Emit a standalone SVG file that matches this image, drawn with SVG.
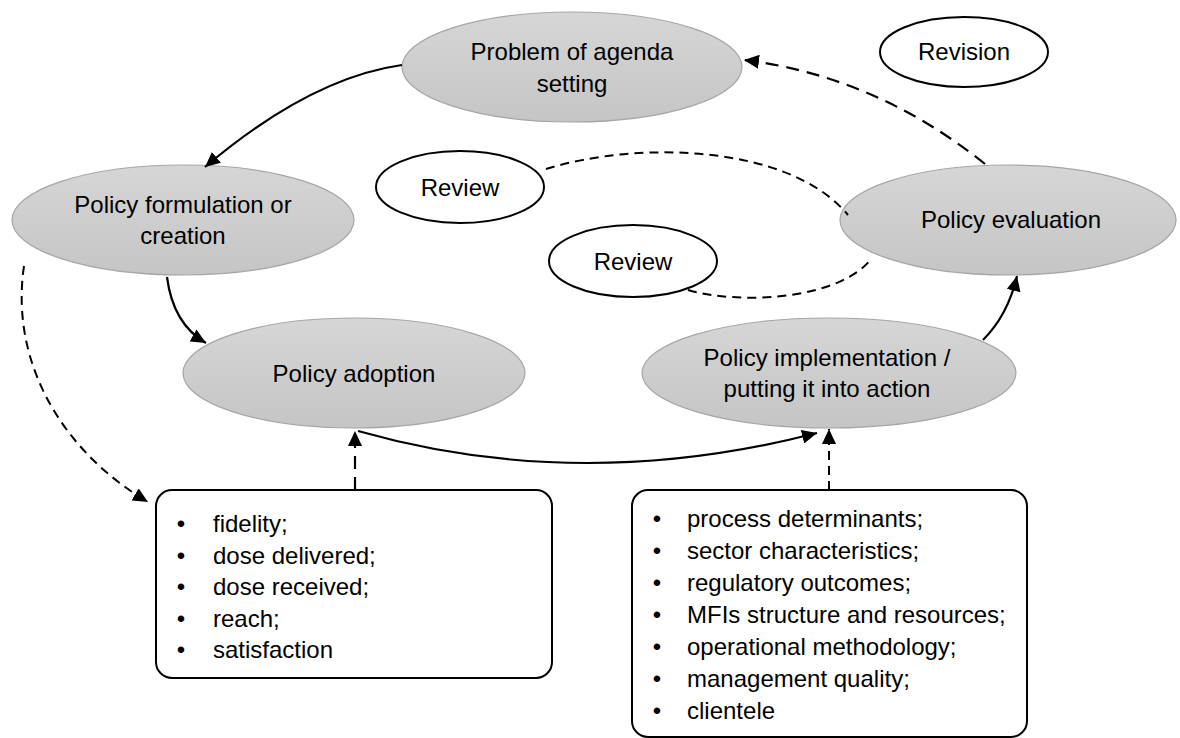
<svg xmlns="http://www.w3.org/2000/svg" width="1180" height="738" viewBox="0 0 1180 738">
<style>
text{font-family:"Liberation Sans",Arial,sans-serif;font-size:24px;fill:#000}
.c{text-anchor:middle}
.stage{fill:url(#g);stroke:#a6a6a6;stroke-width:1.2}
.rev{fill:#fff;stroke:#000;stroke-width:2}
.box{fill:#fff;stroke:#000;stroke-width:2}
.ln{fill:none;stroke:#000;stroke-width:2.2}
.dl{fill:none;stroke:#000;stroke-width:2.2;stroke-dasharray:13 8}
.ds{fill:none;stroke:#000;stroke-width:2;stroke-dasharray:9 6}
</style>
<defs>
<linearGradient id="g" x1="0" y1="0" x2="0" y2="1">
<stop offset="0" stop-color="#d6d6d6"/>
<stop offset="1" stop-color="#c5c5c5"/>
</linearGradient>
<marker id="ah" markerUnits="userSpaceOnUse" markerWidth="16" markerHeight="14" refX="15" refY="7" orient="auto">
<path d="M0,0 L15,7 L0,14 z" fill="#000"/>
</marker>
</defs>
<g id="n-agenda">
<ellipse class="stage" cx="572" cy="67" rx="170" ry="55"/>
<text class="c" x="572" y="60">Problem of agenda</text>
<text class="c" x="572" y="92">setting</text>
</g>
<g id="n-formulation">
<ellipse class="stage" cx="183" cy="220" rx="171" ry="55"/>
<text class="c" x="183" y="213">Policy formulation or</text>
<text class="c" x="183" y="244">creation</text>
</g>
<g id="n-evaluation">
<ellipse class="stage" cx="1008" cy="220" rx="168" ry="55"/>
<text class="c" x="1011" y="228">Policy evaluation</text>
</g>
<g id="n-adoption">
<ellipse class="stage" cx="354" cy="373" rx="171" ry="55"/>
<text class="c" x="354" y="382">Policy adoption</text>
</g>
<g id="n-implementation">
<ellipse class="stage" cx="829" cy="373" rx="187" ry="55"/>
<text class="c" x="827" y="366">Policy implementation /</text>
<text class="c" x="827" y="397">putting it into action</text>
</g>
<g id="n-revision">
<ellipse class="rev" cx="964" cy="52" rx="84" ry="35"/>
<text class="c" x="964" y="60">Revision</text>
</g>
<g id="n-review1">
<ellipse class="rev" cx="460" cy="187" rx="84" ry="36"/>
<text class="c" x="460" y="196">Review</text>
</g>
<g id="n-review2">
<ellipse class="rev" cx="633" cy="261" rx="84" ry="36"/>
<text class="c" x="633" y="270">Review</text>
</g>
<g id="n-box-left">
<rect class="box" x="156" y="490" width="396" height="188" rx="16"/>
<text class="c" x="181" y="532">•</text><text x="213" y="532">fidelity;</text>
<text class="c" x="181" y="563.5">•</text><text x="213" y="563.5">dose delivered;</text>
<text class="c" x="181" y="595">•</text><text x="213" y="595">dose received;</text>
<text class="c" x="181" y="626.5">•</text><text x="213" y="626.5">reach;</text>
<text class="c" x="181" y="658">•</text><text x="213" y="658">satisfaction</text>
</g>
<g id="n-box-right">
<rect class="box" x="632" y="490" width="395" height="247" rx="16"/>
<text class="c" x="657" y="527">•</text><text x="687" y="527">process determinants;</text>
<text class="c" x="657" y="559">•</text><text x="687" y="559">sector characteristics;</text>
<text class="c" x="657" y="591">•</text><text x="687" y="591">regulatory outcomes;</text>
<text class="c" x="657" y="623">•</text><text x="687" y="623">MFIs structure and resources;</text>
<text class="c" x="657" y="655">•</text><text x="687" y="655">operational methodology;</text>
<text class="c" x="657" y="687">•</text><text x="687" y="687">management quality;</text>
<text class="c" x="657" y="719">•</text><text x="687" y="719">clientele</text>
</g>
<g id="connectors">
<path class="ln" d="M402,65 Q310,78 205,167" marker-end="url(#ah)"/>
<path class="ln" d="M167,277 Q173,324 206,343" marker-end="url(#ah)"/>
<path class="ln" d="M358,431 Q580,494 817,433" marker-end="url(#ah)"/>
<path class="ln" d="M983,340 Q1008,315 1017,276" marker-end="url(#ah)"/>
<path class="dl" d="M985,164 Q875,76 744,60" marker-end="url(#ah)"/>
<path class="dl" d="M355,490 L355,431" marker-end="url(#ah)"/>
<path class="ds" d="M829,490 L829,429" marker-end="url(#ah)"/>
<path class="ds" d="M24,266 C10,360 60,450 148,502" marker-end="url(#ah)"/>
<path class="ds" d="M546,169 C640,140 790,145 848,215"/>
<path class="ds" d="M688,290 C740,305 840,300 872,258"/>
</g>
</svg>
